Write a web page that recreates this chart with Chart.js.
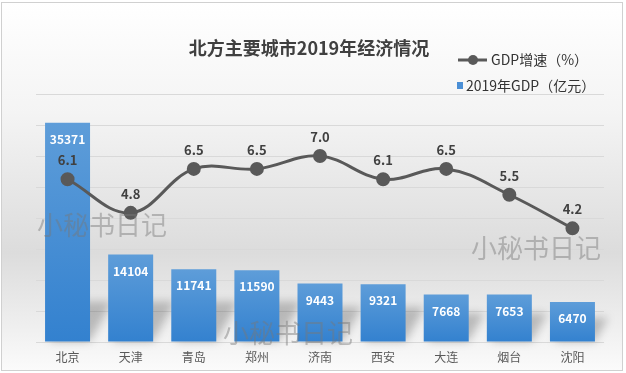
<!DOCTYPE html>
<html>
<head>
<meta charset="utf-8">
<script src="https://cdn.jsdelivr.net/npm/chart.js@4.4.1/dist/chart.umd.min.js"></script>
<style>
  html, body { margin: 0; padding: 0; background: #fff; }
  #wrap { width: 626px; height: 373px; }
</style>
</head>
<body>
<div id="wrap"><canvas id="gdpChart" width="626" height="373"></canvas></div>
<script>
// ===== DATA =====
const cities = ['北京', '天津', '青岛', '郑州', '济南', '西安', '大连', '烟台', '沈阳'];
const gdp2019 = [35371, 14104, 11741, 11590, 9443, 9321, 7668, 7653, 6470];
const gdpGrowth = [6.1, 4.8, 6.5, 6.5, 7.0, 6.1, 6.5, 5.5, 4.2];
const gdpTicks = [0, 5000, 10000, 15000, 20000, 25000, 30000, 35000, 40000];

const chartTitle = '北方主要城市2019年经济情况';
const lineLabel = 'GDP增速（%）';
const barLabel = '2019年GDP（亿元）';
const watermark = '小秘书日记';

const FONT = '"Noto Sans CJK SC", "Noto Sans", sans-serif';
const LINE_COLOR = '#595959';
const TEXT_DARK = '#404040';
const LINE_SET = 0;
const BAR_SET = 1;

// per-bar vertical gradient, lighter on top
function barFill(ctx) {
  const chart = ctx.chart;
  const y = chart.scales.y;
  if (!chart.chartArea || !y || ctx.parsed == null) return '#4a8fd6';
  const top = y.getPixelForValue(ctx.parsed.y);
  const bottom = y.getPixelForValue(0);
  const g = chart.ctx.createLinearGradient(0, top, 0, bottom);
  g.addColorStop(0, '#5e9dd9');
  g.addColorStop(1, '#3381cf');
  return g;
}

// ===== PLUGINS =====
const frame = {
  id: 'frame',
  beforeDraw(chart) {
    const { ctx } = chart;
    ctx.save();
    const g = ctx.createLinearGradient(0, 2, 0, 371);
    g.addColorStop(0, '#ffffff');
    g.addColorStop(0.3, '#f4f4f4');
    g.addColorStop(0.68, '#dcdcdc');
    g.addColorStop(0.88, '#efefef');
    g.addColorStop(1, '#fbfbfb');
    ctx.fillStyle = g;
    ctx.fillRect(1, 2, 622, 369);
    ctx.strokeStyle = '#d0d0d0';
    ctx.lineWidth = 1;
    ctx.strokeRect(1.5, 2.5, 621, 368);
    ctx.restore();
  }
};

// soft slanted shadow at the foot of each bar
const barShadow = {
  id: 'barShadow',
  beforeDatasetDraw(chart, args) {
    if (args.index !== BAR_SET) return;
    const { ctx } = chart;
    ctx.save();
    ctx.filter = 'blur(4px)';
    ctx.fillStyle = 'rgba(0,0,0,0.22)';
    chart.getDatasetMeta(BAR_SET).data.forEach(bar => {
      const left = bar.x - bar.width / 2;
      const right = bar.x + bar.width / 2;
      const h = Math.min((bar.base - bar.y) * 0.6, 40);
      const dx = h * 0.55;
      ctx.beginPath();
      ctx.moveTo(left + 4, bar.base);
      ctx.lineTo(right, bar.base);
      ctx.lineTo(right + dx, bar.base - h);
      ctx.lineTo(left + dx, bar.base - h);
      ctx.closePath();
      ctx.fill();
    });
    ctx.restore();
  }
};

const labelsAndText = {
  id: 'labelsAndText',
  afterDatasetsDraw(chart) {
    const { ctx } = chart;
    ctx.save();
    ctx.textAlign = 'center';
    ctx.textBaseline = 'middle';

    // bar values, white inside the top of the bar
    ctx.fillStyle = '#ffffff';
    ctx.font = 'bold 12px ' + FONT;
    chart.getDatasetMeta(BAR_SET).data.forEach((bar, i) => {
      ctx.fillText(String(gdp2019[i]), bar.x, bar.y + 16.5);
    });

    // growth values above the points
    ctx.fillStyle = TEXT_DARK;
    ctx.font = 'bold 13px ' + FONT;
    chart.getDatasetMeta(LINE_SET).data.forEach((pt, i) => {
      ctx.fillText(gdpGrowth[i].toFixed(1), pt.x, pt.y - 19);
    });

    // title
    ctx.font = 'bold 18px ' + FONT;
    ctx.fillText(chartTitle, 309, 48);

    // legend
    ctx.textAlign = 'left';
    ctx.font = '14px ' + FONT;
    ctx.strokeStyle = LINE_COLOR;
    ctx.lineWidth = 3;
    ctx.beginPath();
    ctx.moveTo(458, 60);
    ctx.lineTo(487, 60);
    ctx.stroke();
    ctx.fillStyle = LINE_COLOR;
    ctx.beginPath();
    ctx.arc(473, 60, 5, 0, Math.PI * 2);
    ctx.fill();
    ctx.fillStyle = '#333333';
    ctx.fillText(lineLabel, 491, 60);

    ctx.fillStyle = '#4a8fd6';
    ctx.fillRect(457, 82, 6, 7);
    ctx.fillStyle = '#333333';
    ctx.fillText(barLabel, 466, 86);

    // watermarks
    ctx.font = '26px ' + FONT;
    ctx.fillStyle = 'rgba(120,120,120,0.45)';
    ctx.fillText(watermark, 37, 225);
    ctx.fillText(watermark, 471, 248);
    ctx.fillText(watermark, 223, 333);
    ctx.restore();
  }
};

// ===== CHART =====
new Chart(document.getElementById('gdpChart'), {
  data: {
    labels: cities,
    datasets: [
      {
        type: 'line',
        label: lineLabel,
        data: gdpGrowth,
        yAxisID: 'y2',
        borderColor: LINE_COLOR,
        borderWidth: 3,
        tension: 0.38,
        pointRadius: 5.5,
        pointBackgroundColor: LINE_COLOR,
        pointBorderColor: LINE_COLOR,
        order: 0
      },
      {
        type: 'bar',
        label: barLabel,
        data: gdp2019,
        yAxisID: 'y',
        backgroundColor: barFill,
        borderWidth: 0,
        barPercentage: 0.713,
        categoryPercentage: 1,
        order: 1
      }
    ]
  },
  options: {
    responsive: false,
    devicePixelRatio: 1,
    animation: false,
    layout: { padding: { top: 94, left: 0, right: 0, bottom: 0 } },
    plugins: {
      legend: { display: false },
      title: { display: false },
      tooltip: { enabled: false }
    },
    scales: {
      x: {
        type: 'category',
        offset: true,
        grid: { display: false, drawTicks: false },
        border: { display: false },
        ticks: { color: '#595959', font: { size: 12, family: FONT }, padding: 8, maxRotation: 0 },
        afterFit: s => { s.height = 31; }
      },
      y: {
        position: 'left',
        min: 0,
        max: 40000,
        afterBuildTicks: s => { s.ticks = gdpTicks.map(v => ({ value: v })); },
        ticks: { display: false },
        grid: { color: '#d9d9d9', lineWidth: 1, drawTicks: false },
        border: { display: false },
        afterFit: s => { s.width = 36; }
      },
      y2: {
        position: 'right',
        min: -0.2,
        max: 9.4,
        ticks: { display: false },
        grid: { display: false, drawTicks: false },
        border: { display: false },
        afterFit: s => { s.width = 22; }
      }
    }
  },
  plugins: [frame, barShadow, labelsAndText]
});
</script>
</body>
</html>
